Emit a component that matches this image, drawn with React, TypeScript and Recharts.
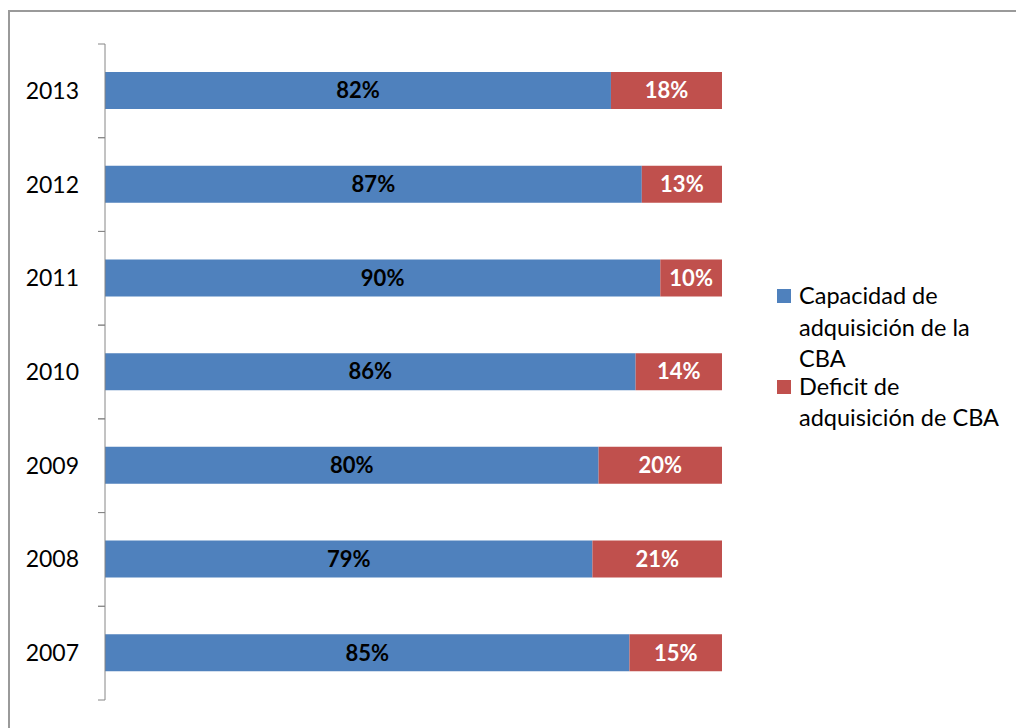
import React from 'react';
import { BarChart, Bar, XAxis, YAxis, LabelList, Legend } from 'recharts';

const years = ['2007', '2008', '2009', '2010', '2011', '2012', '2013'];
const capacidad = [85, 79, 80, 86, 90, 87, 82];
const deficit = [15, 21, 20, 14, 10, 13, 18];

const legendLines: Record<string, string[]> = {
  capacidad: ['Capacidad de', 'adquisición de la', 'CBA'],
  deficit: ['Deficit de', 'adquisición de CBA'],
};

const BLUE = '#4F81BD';
const RED = '#C0504D';
const AXIS = '#868686';
const TICK_GAP = 26;
const TICK_LEN = 7;

const data = years.map((year, i) => ({ year, capacidad: capacidad[i], deficit: deficit[i] }));

// year label plus tick marks on the band edges (Excel "between categories" style)
function YearTick(props: any) {
  const { x, y, payload, height, visibleTicksCount } = props;
  const half = payload.offset || (height && visibleTicksCount ? height / visibleTicksCount / 2 : 0);
  const ax = x + TICK_GAP;
  return (
    <g>
      <line x1={ax - TICK_LEN} x2={ax} y1={y - half} y2={y - half} stroke={AXIS} />
      <line x1={ax - TICK_LEN} x2={ax} y1={y + half} y2={y + half} stroke={AXIS} />
      <text x={x} y={y} dy="0.35em" textAnchor="end" fontSize={23} fill="#000">
        {payload.value}
      </text>
    </g>
  );
}

function LegendBox({ payload }: any) {
  return (
    <div style={{ paddingLeft: 55, paddingBottom: 12, fontSize: 23.5, lineHeight: '31.5px', color: '#000' }}>
      {(payload || []).map((item: any) => (
        <div key={item.dataKey} style={{ position: 'relative', paddingLeft: 22, marginBottom: -4 }}>
          <span
            style={{
              position: 'absolute', left: 0, top: 9, width: 14, height: 14, background: item.color,
            }}
          />
          {legendLines[item.dataKey].map((line) => (
            <div key={line} style={{ whiteSpace: 'nowrap' }}>{line}</div>
          ))}
        </div>
      ))}
    </div>
  );
}

export default function App() {
  return (
    <div
      style={{
        position: 'fixed', left: 0, top: 0, width: 1016, height: 728, overflow: 'hidden',
        background: '#fff', fontFamily: 'Lato, sans-serif',
      }}
    >
      {/* chart frame: top and left edges (right/bottom fall outside the picture) */}
      <div style={{ position: 'absolute', left: 8, top: 10, width: 1008, height: 2, background: '#9a9a9a', zIndex: 2 }} />
      <div style={{ position: 'absolute', left: 8, top: 10, width: 2, height: 718, background: '#9a9a9a', zIndex: 2 }} />
      <div style={{ position: 'absolute', left: 10, top: 11 }}>
        <BarChart
          width={1000}
          height={700}
          layout="vertical"
          data={data}
          margin={{ top: 33, right: 0, bottom: 11, left: 0 }}
          barSize={37}
        >
          <XAxis type="number" domain={[0, 100]} hide />
          <YAxis
            dataKey="year"
            type="category"
            reversed
            width={95}
            axisLine={{ stroke: AXIS }}
            tickLine={false}
            tickSize={0}
            tickMargin={TICK_GAP}
            tick={<YearTick />}
          />
          <Legend
            layout="vertical"
            align="right"
            verticalAlign="middle"
            width={288}
            content={<LegendBox />}
          />
          <Bar dataKey="capacidad" name="Capacidad de adquisición de la CBA" stackId="a" fill={BLUE} isAnimationActive={false}>
            <LabelList
              dataKey="capacidad"
              position="center"
              formatter={(v: any) => `${v}%`}
              style={{ fontSize: 22, fontWeight: 'bold', fill: '#000' }}
            />
          </Bar>
          <Bar dataKey="deficit" name="Deficit de adquisición de CBA" stackId="a" fill={RED} isAnimationActive={false}>
            <LabelList
              dataKey="deficit"
              position="center"
              formatter={(v: any) => `${v}%`}
              style={{ fontSize: 22, fontWeight: 'bold', fill: '#fff' }}
            />
          </Bar>
        </BarChart>
      </div>
    </div>
  );
}
